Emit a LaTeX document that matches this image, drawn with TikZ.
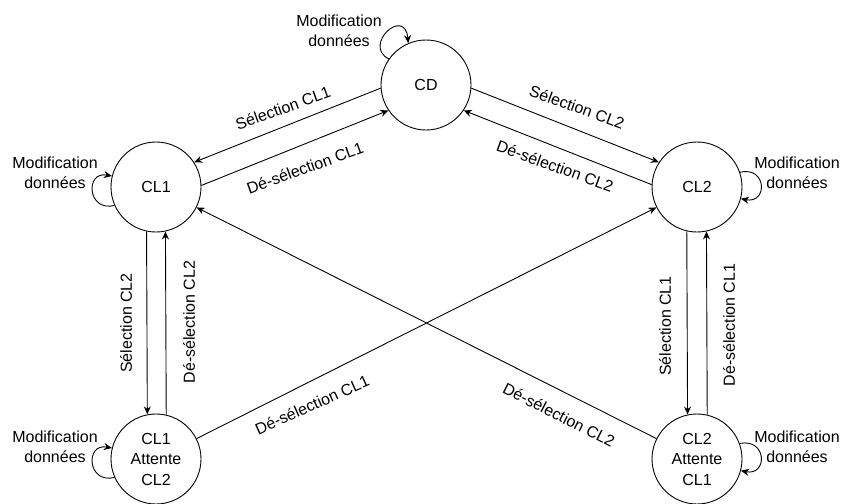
\documentclass[tikz,border=0pt]{standalone}
\usepackage{fontspec}
\setmainfont{Liberation Sans}
\usetikzlibrary{arrows.meta}
\begin{document}
\begin{tikzpicture}[x=1pt,y=-1pt,
  every node/.style={font=\fontsize{16}{20.5}\selectfont},
  statenode/.style={circle,draw,line width=0.9pt,minimum size=90pt,inner sep=0pt,align=center},
  arr/.style={line width=0.9pt,-{Stealth[length=8pt,width=7pt]}},
  lbl/.style={inner sep=0pt,align=center}]
\clip (0,0) rectangle (842,503);
\fill[white] (0,0) rectangle (842,503);
% states
\node[statenode] (CD) at (426,85) {CD};
\node[statenode] (CL1) at (156,187) {CL1};
\node[statenode] (CL2) at (697,187) {CL2};
\node[statenode] (A1) at (156,459) {CL1\\Attente\\CL2};
\node[statenode] (A2) at (697,459) {CL2\\Attente\\CL1};
% transitions CD <-> CL1 / CL2
\draw[arr] (CD.184) -- (CL1.33);
\draw[arr] (CL1.2.5) -- (CD.214.7);
\draw[arr] (CD.356) -- (CL2.147);
\draw[arr] (CL2.177.5) -- (CD.326);
% vertical transitions
\draw[arr] (CL1.258.5) -- (A1.101.5);
\draw[arr] (A1.77.2) -- (CL1.282.8);
\draw[arr] (CL2.257.2) -- (A2.102.8);
\draw[arr] (A2.77.2) -- (CL2.282.8);
% diagonals
\draw[arr] (A1) -- (CL2);
\draw[arr] (A2) -- (CL1);
% self loops
\draw[arr] (CD.145) .. controls (362,45) and (405,6) .. (CD.113);
\draw[arr] (CL1.204) .. controls (87,212) and (85,171) .. (CL1.166);
\draw[arr] (A1.204) .. controls (87,484) and (85,443) .. (A1.166);
\draw[arr] (CL2.19) .. controls (767,166) and (768,204) .. (CL2.-15);
\draw[arr] (A2.20) .. controls (767,438) and (768,476) .. (A2.-15);
% loop labels
\node[lbl] (mCD) at (339,31) {Modification\\données};
\node[lbl] (mCL1) at (55,173) {Modification\\données};
\node[lbl] (mCL2) at (797,173) {Modification\\données};
\node[lbl] (mA1) at (55,447) {Modification\\données};
\node[lbl] (mA2) at (797,447) {Modification\\données};
% edge labels
\node[lbl,rotate=20] (l1) at (283,108) {Sélection CL1};
\node[lbl,rotate=20] (l2) at (305,168) {Dé-sélection CL1};
\node[lbl,rotate=-20] (l3) at (577,107) {Sélection CL2};
\node[lbl,rotate=-20] (l4) at (555,166) {Dé-sélection CL2};
\node[lbl,rotate=90] (l5) at (126,323) {Sélection CL2};
\node[lbl,rotate=90] (l6) at (189,322) {Dé-sélection CL2};
\node[lbl,rotate=90] (l7) at (665,326) {Sélection CL1};
\node[lbl,rotate=90] (l8) at (729,325) {Dé-sélection CL1};
\node[lbl,rotate=24] (l9) at (312,405) {Dé-sélection CL1};
\node[lbl,rotate=-27] (l10) at (559,415) {Dé-sélection CL2};
\end{tikzpicture}
\end{document}
